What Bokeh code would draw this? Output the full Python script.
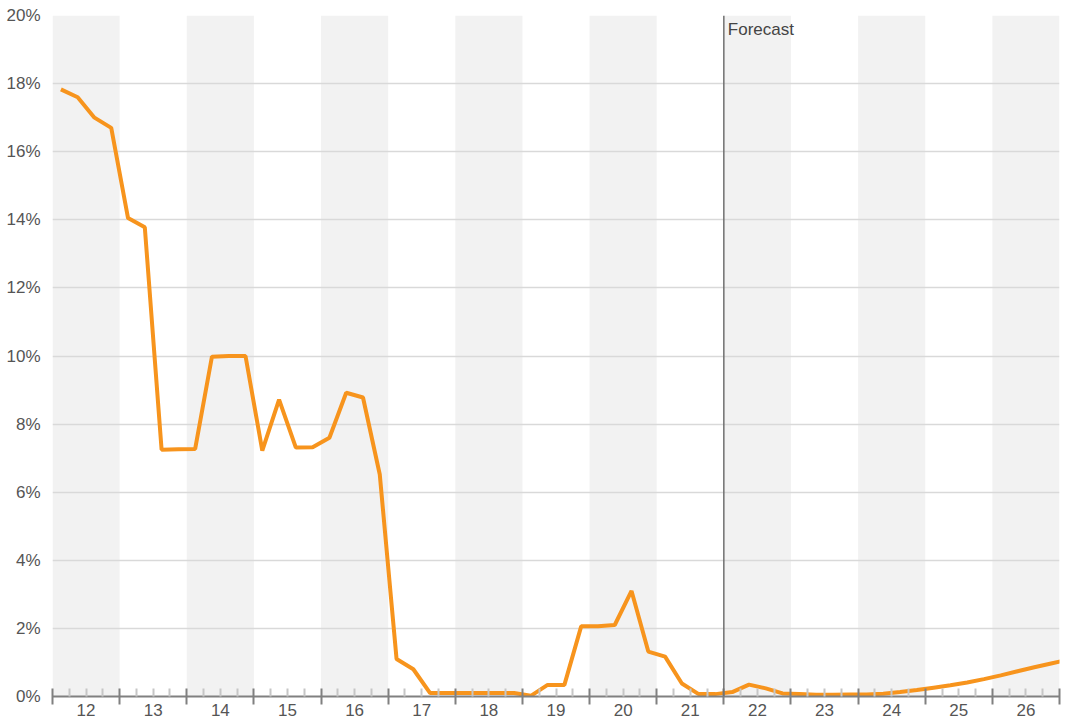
from bokeh.plotting import figure
from bokeh.models import (LinearAxis, FixedTicker, PrintfTickFormatter, Grid, Span, Label,
                          Range1d, ColumnDataSource)
from bokeh.embed import file_html
from bokeh.resources import INLINE

# ---- data ----
years = list(range(12, 27))                 # year labels (20xx)
quarter_labels = [f"{y}Q{q}" for y in years for q in (1, 2, 3, 4)] + ["27Q1"]
rate = [
    17.83, 17.60, 17.00, 16.70,   # 12
    14.05, 13.78, 7.25, 7.26,     # 13
    7.27, 9.98, 10.00, 10.00,     # 14
    7.22, 8.72, 7.31, 7.32,       # 15
    7.60, 8.92, 8.78, 6.52,       # 16
    1.10, 0.80, 0.10, 0.10,       # 17
    0.10, 0.10, 0.10, 0.10,       # 18
    0.02, 0.34, 0.34, 2.06,       # 19
    2.06, 2.10, 3.10, 1.32,       # 20
    1.17, 0.38, 0.07, 0.07,       # 21
    0.13, 0.35, 0.24, 0.09,       # 22
    0.07, 0.05, 0.05, 0.06,       # 23
    0.06, 0.08, 0.13, 0.19,       # 24
    0.26, 0.33, 0.41, 0.51,       # 25
    0.62, 0.74, 0.86, 0.97,       # 26
    1.08,                          # 27 Q1
]
y_ticks = list(range(0, 21, 2))
forecast_start = 21.5   # boundary between 21 and 22
shaded_years = [y for y in years if y % 2 == 0]

# ---- positions from quarter labels ----
def qx(label):
    y, q = label.split("Q")
    return int(y) - 0.5 + 0.25 * (int(q) - 1) + 0.125

xs = [qx(l) for l in quarter_labels]

FONT = "Liberation Sans"
TXT = "#555555"

p = figure(width=1069, height=723, output_backend="svg", toolbar_location=None,
           x_axis_type=None, y_axis_type=None,
           x_range=Range1d(years[0] - 0.5, years[-1] + 0.5), y_range=Range1d(0, 20),
           min_border_left=52, min_border_top=15, min_border_right=10, min_border_bottom=27,
           background_fill_color="white", border_fill_color="white", outline_line_color=None)

# shaded bands
p.quad(left=[y - 0.5 for y in shaded_years], right=[y + 0.5 for y in shaded_years],
       bottom=0, top=20, fill_color="#f2f2f2", line_color=None, level="image")

# horizontal grid
ytick = FixedTicker(ticks=y_ticks)
p.add_layout(Grid(dimension=1, ticker=ytick, grid_line_color="#d9d9d9", grid_line_width=1.5))

# y axis
yax = LinearAxis(ticker=ytick, formatter=PrintfTickFormatter(format="%d%%"),
                 axis_line_color=None, major_tick_line_color=None, minor_tick_line_color=None,
                 major_tick_in=0, major_tick_out=0, minor_tick_in=0, minor_tick_out=0,
                 major_label_standoff=12, major_label_text_font=FONT,
                 major_label_text_font_size="17px", major_label_text_color=TXT)
p.add_layout(yax, "left")

# x axis: boundary ticks + quarter minor ticks
bounds = [y - 0.5 for y in years] + [years[-1] + 0.5]
minors = [b + k * 0.25 for b in bounds[:-1] for k in (1, 2, 3)]
xax1 = LinearAxis(ticker=FixedTicker(ticks=bounds, minor_ticks=minors),
                  major_label_overrides={b: "" for b in bounds},
                  major_label_text_font_size="1px", major_label_standoff=0,
                  axis_line_color="#808080", axis_line_width=2,
                  major_tick_in=8, major_tick_out=8,
                  major_tick_line_color="#808080", major_tick_line_width=2,
                  minor_tick_in=8, minor_tick_out=0,
                  minor_tick_line_color="#c6c6c6", minor_tick_line_width=2)
p.add_layout(xax1, "below")
xax2 = LinearAxis(ticker=FixedTicker(ticks=years), axis_line_color=None,
                  major_tick_line_color=None, minor_tick_line_color=None,
                  major_tick_in=0, major_tick_out=0, minor_tick_in=0, minor_tick_out=0,
                  major_label_standoff=-1, major_label_text_font=FONT,
                  major_label_text_font_size="17px", major_label_text_color=TXT)
p.add_layout(xax2, "below")

# forecast marker
p.add_layout(Span(location=forecast_start, dimension="height", line_color="#707070", line_width=1.5))
p.add_layout(Label(x=forecast_start, y=20, x_offset=4, y_offset=-4, text="Forecast",
                   text_baseline="top", text_font=FONT, text_font_size="17px",
                   text_color="#444444"))

# series
src = ColumnDataSource(dict(x=xs, y=rate))
p.line("x", "y", source=src, line_color="#f7941d", line_width=4)

open("out.html", "w").write(file_html(p, INLINE))
